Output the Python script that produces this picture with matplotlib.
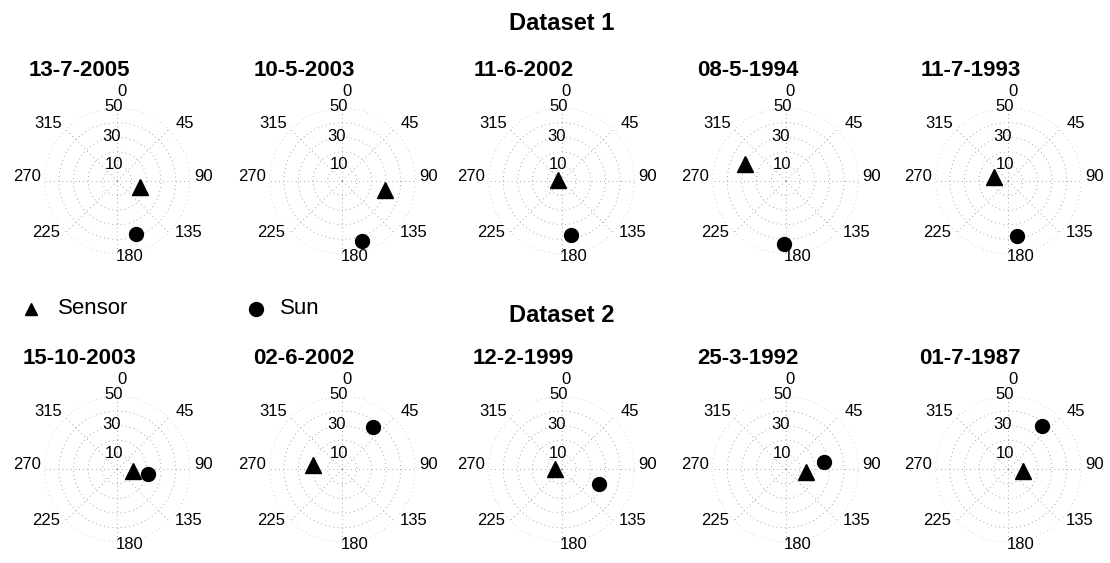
import numpy as np
import matplotlib
matplotlib.use('Agg')
import matplotlib.pyplot as plt
from matplotlib.lines import Line2D

plt.rcParams['font.family'] = ['Liberation Sans', 'DejaVu Sans']

W, H = 1110, 563

# acquisition dates and view/sun geometry (azimuth deg, zenith deg)
dates_1 = ['13-7-2005', '10-5-2003', '11-6-2002', '08-5-1994', '11-7-1993']
sensor_az_1 = [105.5, 101.5, 282.0, 293.0, 286.0]
sensor_zen_1 = [16.0, 29.5, 2.5, 30.5, 10.0]
sun_az_1 = [160.5, 161.5, 170.0, 182.0, 171.5]
sun_zen_1 = [38.5, 43.5, 37.5, 43.0, 38.0]

dates_2 = ['15-10-2003', '02-6-2002', '12-2-1999', '25-3-1992', '01-7-1987']
sensor_az_2 = [96.5, 278.5, 273.0, 96.5, 98.0]
sensor_zen_2 = [10.5, 20.5, 4.5, 14.0, 10.0]
sun_az_2 = [99.5, 36.0, 112.0, 78.5, 38.5]
sun_zen_2 = [21.0, 35.5, 27.5, 26.5, 37.5]

rings = [10, 20, 30, 40, 50]
ring_labels = ['10', '30', '50']
spokes = [0, 45, 90, 135, 180, 225, 270, 315]
spoke_labels = ['0', '45', '90', '135', '180', '225', '270', '315']

# where the labels sit around each dial (theta deg, r)
spoke_label_pos = [(2.7, 61.7), (49.6, 60.9), (87.0, 59.0), (125.8, 60.0),
                   (171.0, 52.4), (234.1, 59.8), (272.8, 62.2), (309.9, 61.6)]
ring_label_pos = [(-12.0, 11.3), (-7.0, 30.6), (-2.5, 51.4)]

col_x = [117.3, 342.3, 561.7, 785.7, 1008.3]
row_y = [181.0, 469.3]
R_PX = 73.0

fig = plt.figure(figsize=(W / 100, H / 100), dpi=100)


def dial(cx, cy, title, s_az, s_zen, u_az, u_zen):
    ax = fig.add_axes([(cx - R_PX) / W, 1 - (cy + R_PX) / H, 2 * R_PX / W, 2 * R_PX / H],
                      projection='polar')
    ax.set_theta_zero_location('N')
    ax.set_theta_direction(-1)
    ax.set_rlim(0, 50)
    ax.set_rgrids(rings, labels=[''] * len(rings))
    ax.set_thetagrids(spokes, labels=[''] * len(spokes))
    ax.grid(True, color='0.55', linestyle=(0, (1, 4)), linewidth=0.6)
    ax.spines['polar'].set_visible(False)
    ax.patch.set_alpha(0)

    for txt, (th, r) in zip(spoke_labels, spoke_label_pos):
        ax.text(np.radians(th), r, txt, ha='center', va='center', fontsize=12, clip_on=False)
    for txt, (th, r) in zip(ring_labels, ring_label_pos):
        ax.text(np.radians(th), r, txt, ha='center', va='center', fontsize=12, clip_on=False)

    ax.plot(np.radians(s_az), s_zen, marker='^', color='black', markersize=11,
            linestyle='none', clip_on=False)
    ax.plot(np.radians(u_az), u_zen, marker='o', color='black', markersize=10,
            linestyle='none', clip_on=False)

    fig.text((cx - 38) / W, 1 - (cy - 111) / H, title, ha='center', va='center',
             fontsize=16, fontweight='bold')


for i in range(5):
    dial(col_x[i], row_y[0], dates_1[i], sensor_az_1[i], sensor_zen_1[i],
         sun_az_1[i], sun_zen_1[i])
    dial(col_x[i], row_y[1], dates_2[i], sensor_az_2[i], sensor_zen_2[i],
         sun_az_2[i], sun_zen_2[i])

fig.text(562 / W, 1 - 24 / H, 'Dataset 1', ha='center', va='center', fontsize=17, fontweight='bold')
fig.text(562 / W, 1 - 315 / H, 'Dataset 2', ha='center', va='center', fontsize=17, fontweight='bold')

# legend
fig.add_artist(Line2D([31 / W], [1 - 309 / H], marker='^', color='black', markersize=9,
                      linestyle='none', transform=fig.transFigure))
fig.text(58 / W, 1 - 308 / H, 'Sensor', ha='left', va='center', fontsize=16)
fig.add_artist(Line2D([256 / W], [1 - 309 / H], marker='o', color='black', markersize=10,
                      linestyle='none', transform=fig.transFigure))
fig.text(280 / W, 1 - 308 / H, 'Sun', ha='left', va='center', fontsize=16)

fig.savefig('out.png', dpi=100)
